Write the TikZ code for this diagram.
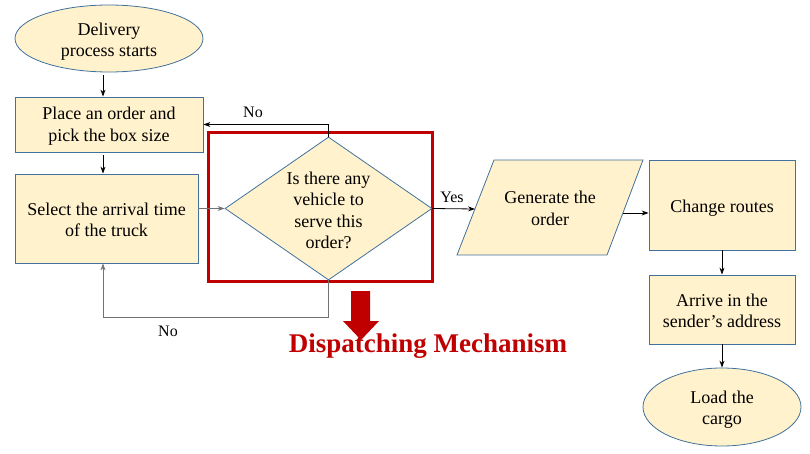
\documentclass[tikz,border=0pt]{standalone}
\usepackage{fontspec}
\setmainfont{Liberation Serif}
\usetikzlibrary{shapes.geometric,arrows.meta}
\definecolor{boxfill}{HTML}{FFF2CC}
\definecolor{boxline}{HTML}{41719C}
\definecolor{darkred}{HTML}{C00000}
\tikzset{
  txt/.style={align=center, inner sep=0pt, font=\fontsize{18}{21.5}\selectfont},
  base/.style={draw=boxline, fill=boxfill, line width=0.8pt, inner sep=0pt},
  procbox/.style={base, rectangle},
  termbox/.style={base, ellipse},
  decbox/.style={base, diamond},
  arr/.style={-{Stealth[length=7pt,width=5pt]}, line width=0.8pt},
  greyarr/.style={arr, draw=black!55},
  lbl/.style={font=\fontsize{16}{19}\selectfont, inner sep=0pt},
}
\begin{document}
\begin{tikzpicture}[x=1pt,y=-1pt]
\useasboundingbox (0,0) rectangle (810,454);
% shapes
\node[termbox, minimum width=188pt, minimum height=67pt] (e1) at (109,38.5) {};
\node[procbox, minimum width=188pt, minimum height=55pt] (b1) at (109,124.5) {};
\node[procbox, minimum width=183pt, minimum height=89pt] (b2) at (106.5,218.5) {};
\node[draw=darkred, line width=3pt, minimum width=224pt, minimum height=148pt, inner sep=0pt] (frame) at (320,207) {};
\node[decbox, minimum width=207pt, minimum height=143pt] (dia) at (328.5,208.5) {};
\filldraw[draw=boxline, fill=boxfill, line width=0.8pt] (494,160) -- (643,160) -- (607,255) -- (457,255) -- cycle;
\coordinate (parin) at (475,209);
\coordinate (parout) at (623,213);
\node[procbox, minimum width=146pt, minimum height=90pt] (b3) at (722,205) {};
\node[procbox, minimum width=146pt, minimum height=69pt] (b4) at (722,309.5) {};
\node[termbox, minimum width=158pt, minimum height=78pt] (e2) at (722,407) {};
% texts
\node[txt] (e1t) at ([yshift=-3pt]e1.center) {Delivery\\process starts};
\node[txt] (b1t) at ([yshift=-1.5pt]b1.center) {Place an order and\\pick the box size};
\node[txt] (b2t) at ([yshift=-1.5pt]b2.center) {Select the arrival time\\of the truck};
\node[txt] (diat) at ([yshift=-2pt]dia.center) {Is there any\\vehicle to\\serve this\\order?};
\node[txt] (par) at (550,208.5) {Generate the\\order};
\node[txt] (b3t) at ([yshift=-3.5pt]b3.center) {Change routes};
\node[txt] (b4t) at ([yshift=-1.5pt]b4.center) {Arrive in the\\sender’s address};
\node[txt] (e2t) at ([yshift=-2.5pt]e2.center) {Load the\\cargo};
% coordinates
\coordinate (nb) at (103,317);
% connectors
\draw[arr, shorten <=3pt] ([xshift=-6pt]e1.south) -- ([xshift=-6pt]e1.south |- b1.north);
\draw[arr, shorten <=3pt] ([xshift=-6pt]b1.south) -- ([xshift=-6pt]b1.south |- b2.north);
\draw[greyarr] (b2.east |- dia.west) -- (dia.west);
\draw[arr] (dia.north) |- (b1.east);
\draw[greyarr] (dia.south) |- (nb) -- (nb |- b2.south);
\draw[arr] (dia.east) -- (parin);
\draw[arr] (parout) -- (parout -| b3.west);
\draw[arr] (b3.south) -- (b4.north);
\draw[arr] (b4.south) -- (e2.north);
% labels
\node[lbl] (no1) at (253,112) {No};
\node[lbl] (no2) at (168,331) {No};
\node[lbl] (yes) at (452,197) {Yes};
% big red arrow
\fill[darkred] (351,291) -- (370,291) -- (370,321) -- (379,321) -- (361,340) -- (343,321) -- (351,321) -- cycle;
\node[text=darkred, font=\fontsize{27}{30}\selectfont\bfseries, inner sep=0pt] (dm) at (428,346) {Dispatching Mechanism};
\end{tikzpicture}
\end{document}
